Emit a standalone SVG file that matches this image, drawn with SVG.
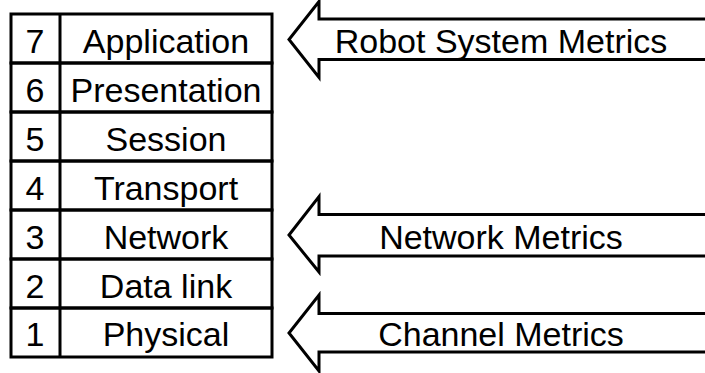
<svg xmlns="http://www.w3.org/2000/svg" width="705" height="373" viewBox="0 0 705 373">
  <style>
    .line { fill: none; stroke: #000; stroke-width: 3; }
    .arrow { fill: #fff; stroke: #000; stroke-width: 3; stroke-linejoin: miter; }
    .label { font-family: "Liberation Sans", Arial, sans-serif; font-size: 34px; fill: #000; text-anchor: middle; }
  </style>
  <rect width="705" height="373" fill="#fff"/>

  <!-- OSI layer stack -->
  <g id="layer7">
    <rect class="line" x="11" y="14" width="261" height="49"/>
    <text class="label" x="35" y="52.5">7</text>
    <text class="label" x="166" y="52.5">Application</text>
  </g>
  <g id="layer6">
    <rect class="line" x="11" y="63" width="261" height="49"/>
    <text class="label" x="35" y="101.5">6</text>
    <text class="label" x="166" y="101.5">Presentation</text>
  </g>
  <g id="layer5">
    <rect class="line" x="11" y="112" width="261" height="49"/>
    <text class="label" x="35" y="150.5">5</text>
    <text class="label" x="166" y="150.5">Session</text>
  </g>
  <g id="layer4">
    <rect class="line" x="11" y="161" width="261" height="49"/>
    <text class="label" x="35" y="199.5">4</text>
    <text class="label" x="166" y="199.5">Transport</text>
  </g>
  <g id="layer3">
    <rect class="line" x="11" y="210" width="261" height="49"/>
    <text class="label" x="35" y="248.5">3</text>
    <text class="label" x="166" y="248.5">Network</text>
  </g>
  <g id="layer2">
    <rect class="line" x="11" y="259" width="261" height="49"/>
    <text class="label" x="35" y="297.5">2</text>
    <text class="label" x="166" y="297.5">Data link</text>
  </g>
  <g id="layer1">
    <rect class="line" x="11" y="308" width="261" height="49"/>
    <text class="label" x="35" y="346">1</text>
    <text class="label" x="166" y="346">Physical</text>
  </g>
  <!-- divider between layer number and layer name -->
  <g id="divider">
    <line class="line" x1="60" y1="14" x2="60" y2="357"/>
  </g>

  <!-- block arrows pointing into the stack -->
  <g id="connectors">
    <g id="robot-system-metrics">
      <path class="arrow" d="M 708 19 L 319 19 L 319 1.5 L 289 39.5 L 319 77.5 L 319 59.5 L 708 59.5"/>
      <text class="label" x="501" y="52.5">Robot System Metrics</text>
    </g>
    <g id="network-metrics">
      <path class="arrow" d="M 708 214.5 L 319 214.5 L 319 196.5 L 289 235 L 319 272 L 319 256 L 708 256"/>
      <text class="label" x="501" y="248.5">Network Metrics</text>
    </g>
    <g id="channel-metrics">
      <path class="arrow" d="M 708 313.5 L 319 313.5 L 319 295 L 289 333 L 319 371 L 319 352 L 708 352"/>
      <text class="label" x="501" y="346">Channel Metrics</text>
    </g>
  </g>
</svg>
